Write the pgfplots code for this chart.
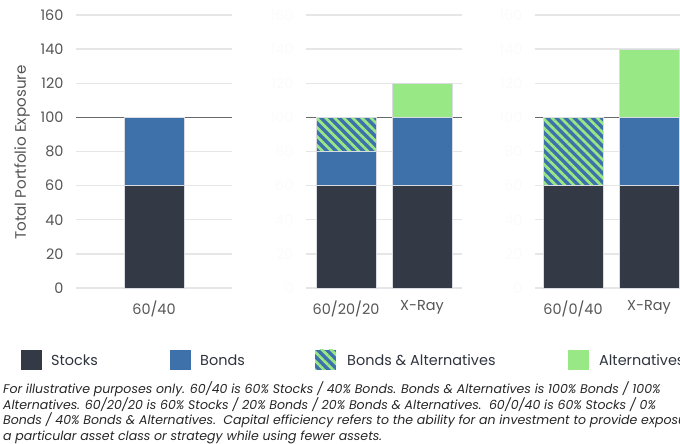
\documentclass[border=0pt]{standalone}
\usepackage{fontspec}
\setmainfont{Poppins}
\usepackage{pgfplots}
\pgfplotsset{compat=1.18}
\usetikzlibrary{patterns.meta}
\definecolor{stocks}{HTML}{333A45}
\definecolor{bonds}{HTML}{3E71AA}
\definecolor{alts}{HTML}{98E886}
\definecolor{gridc}{HTML}{E6E6E6}
\definecolor{ticklab}{HTML}{555555}
\definecolor{faint}{HTML}{FBFBFB}
\definecolor{barline}{HTML}{D8DCE2}
\definecolor{hundred}{HTML}{6A6A6A}
\tikzset{hatch/.style={fill=bonds, postaction={pattern={Lines[angle=-45,distance=6.4bp,line width=2.7bp]}, pattern color=alts}}}
\pgfplotsset{panel/.style={
  scale only axis, width=156bp, height=273bp,
  xmin=0, xmax=156, ymin=0, ymax=160,
  ybar stacked, bar width=60,
  axis line style={draw=none},
  major tick length=0pt,
  ytick={0,20,...,160},
  ymajorgrids, grid style={draw=gridc, line width=1.3bp},
  yticklabel style={font=\fontsize{14.5}{17}\selectfont, text=ticklab, xshift=-9bp},
  xticklabel style={font=\fontsize{14.5}{17}\selectfont, text=ticklab, yshift=-9bp},
  anchor=south west,
  /pgf/number format/assume math mode=true,
  clip=false,
}}
\begin{document}
\begin{tikzpicture}[x=1bp,y=1bp]
\begin{scope}
\clip (0,0) rectangle (680,444);
% Panel 1
\begin{axis}[panel, at={(76bp,156bp)}, xtick={78}, xticklabels={60/40}]
\addplot[fill=stocks, draw=barline] coordinates {(78,60)};
\addplot[fill=bonds, draw=barline] coordinates {(78,40)};
\draw[hundred, line width=1.5bp] (axis cs:0,100) -- (axis cs:156,100);
\end{axis}
% Panel 2
\begin{axis}[panel, at={(306bp,156bp)}, xtick={40,116}, xticklabels={60/20/20, X-Ray}, yticklabel style={text=faint}]
\addplot[fill=stocks, draw=barline] coordinates {(40,60) (116,60)};
\addplot[fill=bonds, draw=barline] coordinates {(40,20) (116,40)};
\addplot[hatch, draw=barline] coordinates {(40,20) (116,0)};
\addplot[fill=alts, draw=barline] coordinates {(40,0) (116,20)};
\draw[hundred, line width=1.5bp] (axis cs:0,100) -- (axis cs:156,100);
\end{axis}
% Panel 3
\begin{axis}[panel, at={(535bp,156bp)}, xtick={38,114}, xticklabels={60/0/40, X-Ray}, yticklabel style={text=faint}]
\addplot[fill=stocks, draw=barline] coordinates {(38,60) (114,60)};
\addplot[fill=bonds, draw=barline] coordinates {(38,0) (114,40)};
\addplot[hatch, draw=barline] coordinates {(38,40) (114,0)};
\addplot[fill=alts, draw=barline] coordinates {(38,0) (114,40)};
\draw[hundred, line width=1.5bp] (axis cs:0,100) -- (axis cs:156,100);
\end{axis}
% legend
\fill[stocks] (21,74) rectangle (42,94);
\node[anchor=base west, inner sep=0, text=stocks!90!black, font=\fontsize{14.5}{17}\selectfont] at (51,78.5) {Stocks};
\fill[bonds] (170,74) rectangle (191,94);
\node[anchor=base west, inner sep=0, text=stocks!90!black, font=\fontsize{14.5}{17}\selectfont] at (200,78.5) {Bonds};
\path[hatch] (315,74) rectangle (336,94);
\node[anchor=base west, inner sep=0, text=stocks!90!black, font=\fontsize{14.5}{17}\selectfont] at (347,78.5) {Bonds \& Alternatives};
\fill[alts] (568,74) rectangle (589,94);
\node[anchor=base west, inner sep=0, text=stocks!90!black, font=\fontsize{14.5}{17}\selectfont] at (599,78.5) {Alternatives};
% footnote
\begin{scope}[every node/.style={anchor=base west, inner sep=0, text=black!85, font=\fontsize{12.6}{15}\selectfont\itshape}]
\node at (3,50) {For illustrative purposes only. 60/40 is 60\% Stocks / 40\% Bonds. Bonds \& Alternatives is 100\% Bonds / 100\%};
\node at (3,34.5) {Alternatives. 60/20/20 is 60\% Stocks / 20\% Bonds / 20\% Bonds \& Alternatives.\ \ 60/0/40 is 60\% Stocks / 0\%};
\node at (3,19) {Bonds / 40\% Bonds \& Alternatives.\ \ Capital efficiency refers to the ability for an investment to provide exposure to};
\node at (3,3.5) {a particular asset class or strategy while using fewer assets.};
\end{scope}
\end{scope}
% y label
\node[rotate=90, text=ticklab, font=\fontsize{15.2}{18}\selectfont] at (22,291.5) {Total Portfolio Exposure};
\pgfresetboundingbox
\useasboundingbox (0,0) rectangle (680,444);
\end{tikzpicture}
\end{document}
